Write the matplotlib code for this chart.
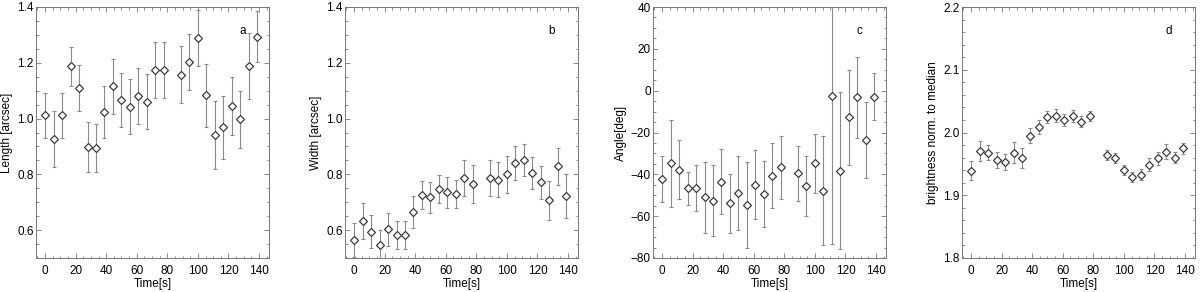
import matplotlib
matplotlib.use("Agg")
import matplotlib.pyplot as plt
from matplotlib.ticker import MultipleLocator

plt.rcParams['font.family'] = ['Liberation Sans', 'DejaVu Sans']

time_s = [0.0, 5.6, 11.1, 16.7, 22.2, 27.8, 33.3, 38.9, 44.4, 50.0, 55.6, 61.1, 66.7,
          72.2, 77.8, 88.9, 94.4, 100.0, 105.6, 111.1, 116.7, 122.2, 127.8, 133.3, 138.9]

length = [1.011, 0.926, 1.011, 1.188, 1.109, 0.898, 0.894, 1.023, 1.115, 1.067, 1.043, 1.081, 1.061,
          1.173, 1.175, 1.157, 1.202, 1.290, 1.083, 0.940, 0.969, 1.045, 0.997, 1.189, 1.294]
length_err = [0.082, 0.10, 0.082, 0.07, 0.083, 0.088, 0.086, 0.094, 0.099, 0.097, 0.10, 0.10, 0.10,
              0.10, 0.10, 0.103, 0.10, 0.10, 0.112, 0.122, 0.113, 0.104, 0.102, 0.118, 0.09]

width = [0.564, 0.634, 0.595, 0.545, 0.603, 0.583, 0.583, 0.666, 0.725, 0.717, 0.749, 0.735, 0.730,
         0.787, 0.765, 0.787, 0.780, 0.800, 0.840, 0.852, 0.805, 0.771, 0.707, 0.829, 0.723]
width_err = [0.06, 0.065, 0.06, 0.055, 0.06, 0.05, 0.05, 0.057, 0.05, 0.055, 0.05, 0.055, 0.05,
             0.065, 0.068, 0.065, 0.063, 0.067, 0.06, 0.057, 0.057, 0.06, 0.07, 0.067, 0.079]

angle = [-42.3, -34.8, -37.8, -46.7, -46.7, -51.0, -52.6, -43.5, -53.9, -49.0, -54.5, -45.0, -49.4,
         -40.7, -36.7, -39.6, -45.5, -34.8, -47.8, -2.4, -38.3, -12.8, -3.2, -23.6, -2.9]
angle_err = [11, 21, 14, 8, 11, 17, 17, 15.5, 14, 17.6, 20.5, 16.4, 16,
             15.5, 15, 13, 14.5, 14, 26, 71, 37.6, 22.5, 19.3, 18, 11.3]

bright = [1.939, 1.971, 1.968, 1.956, 1.953, 1.968, 1.960, 1.995, 2.009, 2.025, 2.027, 2.020, 2.026,
          2.017, 2.026, 1.964, 1.960, 1.940, 1.929, 1.933, 1.949, 1.959, 1.969, 1.960, 1.975]
bright_err = [0.015, 0.016, 0.012, 0.013, 0.013, 0.017, 0.016, 0.012, 0.011, 0.010, 0.010, 0.010, 0.010,
              0.009, 0.008, 0.008, 0.008, 0.008, 0.008, 0.009, 0.010, 0.010, 0.012, 0.009, 0.009]

panels = [
    (length, length_err, 'Length [arcsec]', (0.5, 1.4), 0.2, 0.05, 'a'),
    (width, width_err, 'Width [arcsec]', (0.5, 1.4), 0.2, 0.05, 'b'),
    (angle, angle_err, 'Angle[deg]', (-80, 40), 20, 5, 'c'),
    (bright, bright_err, 'brightness norm. to median', (1.8, 2.2), 0.1, 0.02, 'd'),
]

W, H = 1200, 292
fig = plt.figure(figsize=(W / 100, H / 100), dpi=100)
lefts = [36, 345, 653, 962]
axw = 233
top, bottom = 7, 258
fs = 8.5

for (vals, errs, ylab, ylim, maj, mnr, tag), lp in zip(panels, lefts):
    ax = fig.add_axes([lp / W, 1 - bottom / H, axw / W, (bottom - top) / H])
    ax.errorbar(time_s, vals, yerr=errs, fmt='none', ecolor='#8a8a8a', elinewidth=0.8,
                capsize=1.5, capthick=0.8)
    ax.plot(time_s, vals, linestyle='none', marker='D', markersize=4.3, markerfacecolor='white',
            markeredgecolor='#333333', markeredgewidth=0.85)
    ax.set_xlim(-5.9, 146.5)
    ax.set_ylim(*ylim)
    ax.xaxis.set_major_locator(MultipleLocator(20))
    ax.xaxis.set_minor_locator(MultipleLocator(5))
    ax.yaxis.set_major_locator(MultipleLocator(maj))
    ax.yaxis.set_minor_locator(MultipleLocator(mnr))
    ax.tick_params(which='both', direction='in', top=True, right=True, color='#777777',
                   labelsize=fs, width=0.6)
    ax.tick_params(which='major', length=3.5)
    ax.tick_params(which='minor', length=1.8)
    ax.tick_params(axis='x', which='major', pad=5)
    ax.tick_params(axis='y', which='major', pad=1.5)
    for s in ax.spines.values():
        s.set_color('#777777')
        s.set_linewidth(0.7)
    ax.set_xlabel('Time[s]', fontsize=fs, labelpad=1)
    ax.set_ylabel(ylab, fontsize=fs, labelpad=3)
    ax.text(0.888, 0.904, tag, transform=ax.transAxes, fontsize=fs, ha='center', va='center')

fig.savefig('out.png', dpi=100)
